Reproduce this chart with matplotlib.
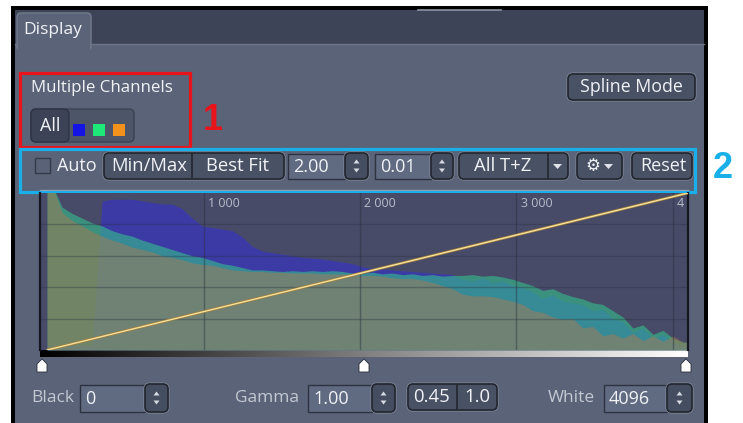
import numpy as np
import matplotlib
matplotlib.use("Agg")
import matplotlib.pyplot as plt
from matplotlib.patches import FancyBboxPatch, Rectangle, Polygon

# ---------------- data ----------------
bin_width = 64
bin_edges = np.arange(0, 4096 + 1, bin_width)  # 65 edges -> 64 bins

blue_counts = [0.03, 0.03, 0.03, 0.03, 0.03, 0.95, 0.96, 0.96, 0.96, 0.95,
               0.94, 0.93, 0.93, 0.90, 0.84, 0.79, 0.78, 0.77, 0.76, 0.72,
               0.66, 0.63, 0.62, 0.61, 0.60, 0.59, 0.585, 0.58, 0.57, 0.56,
               0.55, 0.53, 0.52, 0.515, 0.51, 0.505, 0.50, 0.495, 0.49, 0.485,
               0.48, 0.45, 0.44, 0.46, 0.43, 0.44, 0.41, 0.40, 0.37, 0.33,
               0.35, 0.31, 0.30, 0.29, 0.25, 0.26, 0.20, 0.18, 0.11, 0.14,
               0.07, 0.10, 0.05, 0.03]
green_counts = [1.05, 0.91, 0.87, 0.84, 0.81, 0.79, 0.76, 0.74, 0.725, 0.70,
                0.68, 0.66, 0.64, 0.62, 0.60, 0.59, 0.57, 0.55, 0.54, 0.525,
                0.51, 0.51, 0.505, 0.50, 0.505, 0.50, 0.505, 0.50, 0.505, 0.50,
                0.49, 0.49, 0.495, 0.485, 0.49, 0.48, 0.485, 0.475, 0.48, 0.47,
                0.475, 0.475, 0.48, 0.47, 0.475, 0.465, 0.45, 0.43, 0.41, 0.38,
                0.39, 0.36, 0.34, 0.325, 0.30, 0.29, 0.25, 0.21, 0.14, 0.16,
                0.10, 0.125, 0.075, 0.05]
orange_counts = [1.05, 0.875, 0.825, 0.79, 0.755, 0.725, 0.70, 0.68, 0.655, 0.64,
                 0.625, 0.60, 0.59, 0.575, 0.555, 0.545, 0.54, 0.525, 0.51, 0.505,
                 0.50, 0.50, 0.495, 0.495, 0.49, 0.49, 0.49, 0.485, 0.485, 0.485,
                 0.48, 0.475, 0.475, 0.47, 0.46, 0.455, 0.455, 0.445, 0.43, 0.41,
                 0.39, 0.355, 0.345, 0.345, 0.34, 0.325, 0.31, 0.29, 0.25, 0.24,
                 0.21, 0.195, 0.20, 0.14, 0.15, 0.09, 0.105, 0.075, 0.105, 0.06,
                 0.09, 0.055, 0.09, 0.05]

grid_values = [1000, 2000, 3000, 4000]
grid_labels = ["1 000", "2 000", "3 000", "4 000"]
black_value = 0
gamma_value = 1.00
white_value = 4096
slider_marks = [0, 2048, 4096]

# ---------------- figure ----------------
plt.rcParams['font.family'] = ['Open Sans', 'DejaVu Sans']
fig = plt.figure(figsize=(7.43, 4.23), dpi=100)
fig.patch.set_facecolor('white')
ui = fig.add_axes([0, 0, 1, 1])
ui.set_xlim(0, 743)
ui.set_ylim(423, 0)
ui.axis('off')

PANEL = '#5a6377'
BTN = '#495165'
BTN_EDGE = '#22262f'
RIM = '#7f8799'
FIELD = '#606a81'
TXT = '#f0f2f6'
LBL = '#c3c8d2'


def rect(x0, y0, x1, y1, fc, ec='none', lw=0, z=1):
    ui.add_patch(Rectangle((x0, y0), x1 - x0, y1 - y0, fc=fc, ec=ec, lw=lw, zorder=z))


def rbox(x0, y0, x1, y1, fc=BTN, ec=BTN_EDGE, lw=1.2, r=5, z=3, rim=True):
    if rim:
        ui.add_patch(FancyBboxPatch((x0 - 1, y0 - 1), x1 - x0 + 2, y1 - y0 + 2,
                                    boxstyle=f"round,pad=0,rounding_size={r + 1}",
                                    fc='none', ec=RIM, lw=0.8, zorder=z))
    ui.add_patch(FancyBboxPatch((x0, y0), x1 - x0, y1 - y0,
                                boxstyle=f"round,pad=0,rounding_size={r}",
                                fc=fc, ec=ec, lw=lw, zorder=z))


def label(x, y, s, size=13, color=TXT, ha='left', **kw):
    ui.text(x, y, s, fontsize=size, color=color, ha=ha, va='center', zorder=6, **kw)


def spinner(x0, y0, x1, y1):
    rbox(x0, y0, x1, y1, fc='#454d60', ec=BTN_EDGE, lw=1.2, r=5)
    cx = (x0 + x1) / 2
    cy = (y0 + y1) / 2
    ui.add_patch(Polygon([[cx - 3, cy - 2.5], [cx + 3, cy - 2.5], [cx, cy - 6.5]],
                         closed=True, fc='#d5d9e0', ec='none', zorder=5))
    ui.add_patch(Polygon([[cx - 3, cy + 2.5], [cx + 3, cy + 2.5], [cx, cy + 6.5]],
                         closed=True, fc='#d5d9e0', ec='none', zorder=5))


def field(x0, y0, x1, y1, s):
    rect(x0, y0, x1, y1, fc=FIELD, ec='#2d3241', lw=1.0, z=3)
    label(x0 + 5, (y0 + y1) / 2 + 1, s, size=13)


# frame and panel
rect(11, 6, 708, 423, '#000000')
rect(15, 10, 704, 423, PANEL)
rect(15, 10, 704, 44, '#3d4457')
ui.plot([418, 501], [10, 10], color='#8c94a6', lw=1.2, zorder=2)
ui.plot([15, 704], [44.5, 44.5], color='#6c7588', lw=1.0, zorder=2)
rbox(17, 13, 91, 50, fc=PANEL, ec='#737c8f', lw=1.0, r=4, z=2, rim=False)
rect(18, 44, 90, 52, PANEL, z=2.5)
label(23, 30, "Display", size=12.5)

# multiple channels
label(31, 88, "Multiple Channels", size=12.2)
rbox(31, 109, 134, 142, fc='#4d5568', ec='#3a4152', lw=1.0, r=5, rim=False)
rbox(31, 109, 69, 142, fc='#3c4356', ec='#2e3444', lw=1.0, r=5, rim=False)
label(50, 126, "All", size=13, ha='center')
for x0, c in [(73, '#1414e6'), (93, '#1ee878'), (113, '#f2921c')]:
    rect(x0, 124, x0 + 12, 136, c, z=4)

# spline mode
rbox(568, 74, 695, 100)
label(631, 87, "Spline Mode", size=12.8, ha='center')

# second row
rect(35, 158, 50, 173, '#596277', ec='#333a4a', lw=1.0, z=3)
label(57, 166, "Auto", size=13)
rbox(104, 153, 284, 179)
ui.plot([192, 192], [154, 178], color=BTN_EDGE, lw=1.2, zorder=4)
label(149, 166, "Min/Max", size=13.3, ha='center')
label(238, 166, "Best Fit", size=13.3, ha='center')
field(288, 154, 345, 179, "2.00")
spinner(345, 153, 368, 179)
field(375, 154, 431, 179, "0.01")
spinner(431, 153, 453, 179)
rbox(459, 153, 568, 179)
ui.plot([548, 548], [154, 178], color=BTN_EDGE, lw=1.2, zorder=4)
label(503, 166, "All T+Z", size=13.3, ha='center')
ui.add_patch(Polygon([[553, 164], [562, 164], [557.5, 169]], closed=True,
                     fc='#e0e3ea', ec='none', zorder=5))
rbox(577, 153, 622, 179)
label(593, 166, "\u2699", size=12, ha='center', family=['DejaVu Sans'])
ui.add_patch(Polygon([[604, 164], [613, 164], [608.5, 169]], closed=True,
                     fc='#e0e3ea', ec='none', zorder=5))
rbox(632, 153, 692, 179)
label(663, 166, "Reset", size=13, ha='center')

# bottom row
label(31, 398, "Black", size=12.5, color=LBL)
field(80, 385, 145, 412, str(black_value))
spinner(145, 384, 168, 412)
label(235, 398, "Gamma", size=12.5, color=LBL)
field(308, 385, 372, 412, f"{gamma_value:.2f}")
spinner(372, 384, 395, 412)
rbox(408, 384, 497, 410)
ui.plot([457, 457], [385, 409], color=BTN_EDGE, lw=1.2, zorder=4)
label(432, 397, "0.45", size=13.3, ha='center')
label(477, 397, "1.0", size=13.3, ha='center')
label(548, 398, "White", size=12.5, color=LBL)
field(604, 385, 667, 412, str(white_value))
spinner(667, 384, 692, 412)

# gradient bar and slider marks
ui.imshow(np.linspace(0, 1, 256)[None, :], cmap='gray', aspect='auto',
          extent=(40, 688, 357, 350), zorder=3)
for v in slider_marks:
    xm = 42 + v / 4096 * 644
    ui.add_patch(Polygon([[xm - 5, 372], [xm + 5, 372], [xm + 5, 364], [xm, 359], [xm - 5, 364]],
                         closed=True, fc='white', ec='#2a2f3a', lw=0.6, zorder=5))

# annotation boxes
rect(19.5, 73.5, 189.5, 147.5, 'none', ec='#e8141c', lw=2.3, z=7)
label(213, 120, "1", size=26, color='#e8141c', ha='center', weight='bold', family=['Liberation Sans'])
rect(20, 149.5, 695, 192.5, 'none', ec='#19b0ea', lw=2.3, z=7)
label(723, 169, "2", size=26, color='#19b0ea', ha='center', weight='bold', family=['Liberation Sans'])
ui.plot([40, 688], [190, 190], color='#9aa1b0', lw=1.0, zorder=2)

# ---------------- histogram ----------------
ax = fig.add_axes([40 / 743, 73 / 423, 648 / 743, 157 / 423])
ax.set_facecolor('#474b68')
ax.set_xlim(-45, 4096)
ax.set_ylim(0, 1)
centers = (bin_edges[:-1] + bin_edges[1:]) / 2
xs = np.r_[bin_edges[0], centers, bin_edges[-1]]


def hist_fill(counts, color, alpha, z):
    c = np.asarray(counts)
    ys = np.r_[c[0], c, c[-1]]
    ax.fill_between(xs, 0, ys, color=color, alpha=alpha, lw=0, zorder=z)


hist_fill(blue_counts, '#3a38b5', 0.8, 1)
hist_fill(green_counts, '#34c18c', 0.6, 1.1)
hist_fill(orange_counts, '#b4784c', 0.45, 1.2)
for v in grid_values:
    ax.axvline(v, color='#2a2f3f', lw=1.0, alpha=0.45, zorder=2)
for h in [0.2, 0.4, 0.6, 0.8]:
    ax.axhline(h, color='#2a2f3f', lw=1.0, alpha=0.35, zorder=2)
for v, s in zip(grid_values, grid_labels):
    ax.text(v + 28, 0.93, s, fontsize=9, color='#b8bdc9', ha='left', va='center',
            clip_on=True, zorder=4)
ax.plot([black_value, white_value], [0, 1], color='#a8803a', lw=2.0, zorder=3,
        solid_capstyle='butt')
ax.plot([black_value, white_value], [0, 1], color='#f3e3a0', lw=0.95, zorder=3.1)
ax.set_xticks([])
ax.set_yticks([])
for side in ['top', 'bottom']:
    ax.spines[side].set_visible(False)
for side in ['left', 'right']:
    ax.spines[side].set_color('#15181f')
    ax.spines[side].set_linewidth(1.6)

fig.savefig('out.png', dpi=100, facecolor='white')
